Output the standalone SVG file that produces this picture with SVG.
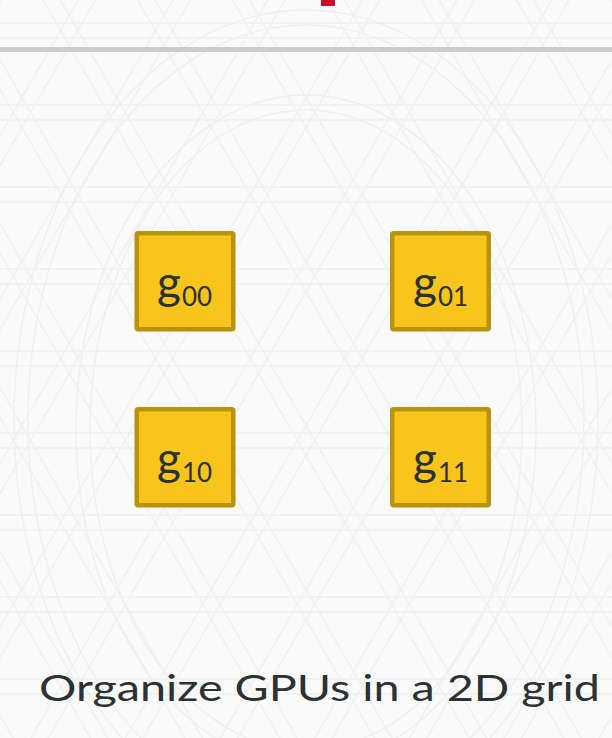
<svg xmlns="http://www.w3.org/2000/svg" width="612" height="738" viewBox="0 0 612 738">
  <style>
    .bgl { stroke: #efefef; stroke-width: 1.5; fill: none; }
    .box { fill: #f9c41c; stroke: #b9920f; stroke-width: 4.5; }
    .lbl { font-family: Lato, "Liberation Sans", sans-serif; fill: #2c3133; }
    .g { font-size: 46px; }
    .sub { font-size: 26px; }
  </style>
  <defs>
    <pattern id="stripes0" patternUnits="userSpaceOnUse" x="0" y="0" width="100" height="82">
      <line x1="-5" y1="23" x2="105" y2="23" class="bgl"/>
      <line x1="-5" y1="38" x2="105" y2="38" class="bgl"/>
    </pattern>
    <pattern id="stripes60" href="#stripes0" patternTransform="rotate(60 306 112.5)"/>
    <pattern id="stripes120" href="#stripes0" patternTransform="rotate(120 306 112.5)"/>
  </defs>

  <g id="background">
    <rect x="0" y="0" width="612" height="738" fill="#fafafa"/>
    <rect x="0" y="0" width="612" height="738" fill="url(#stripes0)"/>
    <rect x="0" y="0" width="612" height="738" fill="url(#stripes60)"/>
    <rect x="0" y="0" width="612" height="738" fill="url(#stripes120)"/>
    <ellipse cx="306" cy="420" rx="292" ry="410" class="bgl"/>
    <ellipse cx="306" cy="420" rx="278" ry="395" class="bgl"/>
    <ellipse cx="306" cy="430" rx="230" ry="335" class="bgl"/>
    <ellipse cx="306" cy="430" rx="216" ry="320" class="bgl"/>
  </g>

  <g id="header">
    <rect x="321" y="0" width="14" height="6" fill="#c8102e"/>
    <rect x="0" y="47" width="612" height="5" fill="#c8cdcd"/>
  </g>

  <g id="node-g00">
    <rect class="box" x="136.75" y="233.25" width="96.5" height="96" rx="1.5"/>
    <text class="lbl" x="157" y="299"><tspan class="g">g</tspan><tspan class="sub" dx="1" y="306">00</tspan></text>
  </g>
  <g id="node-g01">
    <rect class="box" x="392.25" y="233.25" width="96.5" height="96" rx="1.5"/>
    <text class="lbl" x="413" y="299"><tspan class="g">g</tspan><tspan class="sub" dx="1" y="306">01</tspan></text>
  </g>
  <g id="node-g10">
    <rect class="box" x="136.75" y="409.25" width="96.5" height="96" rx="1.5"/>
    <text class="lbl" x="157" y="475"><tspan class="g">g</tspan><tspan class="sub" dx="1" y="482">10</tspan></text>
  </g>
  <g id="node-g11">
    <rect class="box" x="392.25" y="409.25" width="96.5" height="96" rx="1.5"/>
    <text class="lbl" x="413" y="475"><tspan class="g">g</tspan><tspan class="sub" dx="1" y="482">11</tspan></text>
  </g>

  <g id="connectors"></g>

  <text class="lbl" x="39" y="701" font-size="37" textLength="561" lengthAdjust="spacingAndGlyphs">Organize GPUs in a 2D grid</text>
</svg>
